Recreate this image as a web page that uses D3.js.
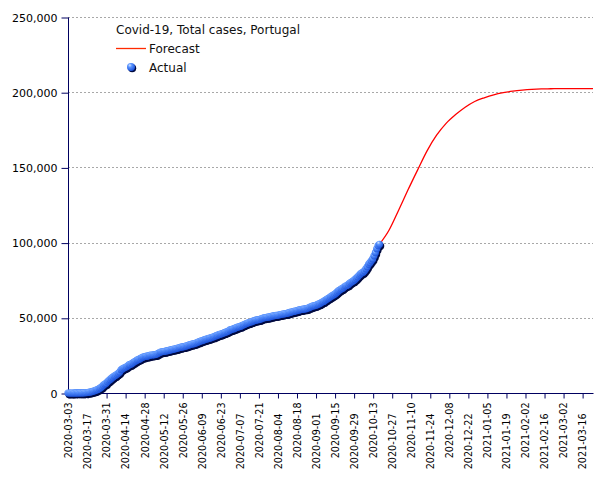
<!DOCTYPE html>
<html>
<head>
<meta charset="utf-8">
<script src="https://cdn.jsdelivr.net/npm/d3@7/dist/d3.min.js"></script>
<style>
  html, body { margin: 0; padding: 0; background: #ffffff; }
  svg { display: block; }
</style>
</head>
<body>
<script>
// ---------------- data ----------------
const chartTitle = "Covid-19, Total cases, Portugal";
const seriesNames = ["Forecast", "Actual"];

// Actual: daily totals starting 2020-03-03
const actualStart = "2020-03-03";
const actualValues = [
  2, 4, 6, 9, 13, 21, 30, 39, 41, 59, 78, 112, 169, 245, 331, 448, 642, 785, 1020, 1280,
  1600, 2060, 2362, 2995, 3544, 4268, 5170, 5962, 6408, 7443,
  8251, 9034, 9886, 10524, 11278, 11730, 12442, 13141, 13956, 15472, 15987, 16585, 16934, 17448, 18091,
  18841, 19022, 19685, 20206, 20863, 21379, 21982, 22353, 22797, 23392, 23864, 24027, 24322, 24505, 24692,
  25045, 25190, 25282, 25351, 25524, 25702, 26182, 26715, 27268, 27406, 27581, 27679, 27913, 28132, 28319,
  28583, 28810, 29036, 29209, 29432, 29660, 29912, 30200, 30471, 30623, 30788, 31007, 31292, 31596, 31946, 32203,
  32500, 32700, 32895, 33261, 33592, 33969, 34351, 34693, 34885, 35306, 35600, 35910, 36180, 36463, 36690,
  37036, 37336, 37672, 38089, 38464, 38841, 39133, 39392, 39737, 40104, 40415, 40866, 41189, 41912, 42141,
  42454, 42782, 43156, 43569, 43897, 44129, 44416, 44859, 45277, 45679, 46221, 46512, 46818, 47051, 47426,
  47765, 48077, 48390, 48636, 48771, 48898, 49379, 49692, 49955, 50164, 50299, 50410, 50613, 50868, 51072, 51310,
  51463, 51569, 51681, 51848, 52061, 52351, 52537, 52668, 52825, 52945, 53223, 53548, 53783, 53981, 54234,
  54448, 54701, 54890, 55211, 55452, 55597, 55720, 55912, 56007, 56274, 56673, 57074, 57448, 57883, 58012, 58243,
  58633, 59051, 59457, 59943, 60507, 60895, 61541, 62126, 62813, 63310, 63983, 64596, 65021, 65626, 66396,
  67176, 68025, 68577, 69200, 69663, 70465, 71156, 71475, 72055, 72939, 73604, 74106, 74717, 75542, 76396,
  77284, 78247, 79151, 79885, 80312, 81256, 82534, 83928, 85574, 86664, 87913, 89121, 91193, 93294, 95902,
  98055, 98900
];

// Forecast (weekly readings)
const forecastDates = [
  "2020-10-18", "2020-10-25", "2020-11-01", "2020-11-08", "2020-11-15", "2020-11-22", "2020-11-29",
  "2020-12-06", "2020-12-13", "2020-12-20", "2020-12-27", "2021-01-03", "2021-01-10", "2021-01-17",
  "2021-01-24", "2021-01-31", "2021-02-07", "2021-02-14", "2021-02-21", "2021-02-28", "2021-03-07",
  "2021-03-14", "2021-03-24"
];
const forecastValues = [
  98900, 108200, 121400, 135100, 148200, 161000, 171400,
  179300, 185100, 190000, 193800, 196300, 198300, 199700,
  200700, 201400, 201900, 202200, 202300, 202400, 202400,
  202400, 202400
];

const xDomain = ["2020-03-03", "2021-03-24"];
const xTickLabels = [
  "2020-03-03", "2020-03-17", "2020-03-31", "2020-04-14", "2020-04-28", "2020-05-12", "2020-05-26",
  "2020-06-09", "2020-06-23", "2020-07-07", "2020-07-21", "2020-08-04", "2020-08-18", "2020-09-01",
  "2020-09-15", "2020-09-29", "2020-10-13", "2020-10-27", "2020-11-10", "2020-11-24", "2020-12-08",
  "2020-12-22", "2021-01-05", "2021-01-19", "2021-02-02", "2021-02-16", "2021-03-02", "2021-03-16"
];
const yTicks = [0, 50000, 100000, 150000, 200000, 250000];

// ---------------- chart ----------------
(function () {
const W = 605, H = 480;
const pLeft = 68, pRight = 593, pTop = 17, pBottom = 393;
const parse = d3.utcParse("%Y-%m-%d");
const FONT = "'DejaVu Sans', Verdana, sans-serif";
const AXIS = "#000060";

const x = d3.scaleUtc().domain(xDomain.map(parse)).range([pLeft, pRight]);
const y = d3.scaleLinear().domain([0, 250000]).range([pBottom, pTop]);

const svg = d3.select("body").append("svg")
  .attr("width", W).attr("height", H)
  .attr("viewBox", `0 0 ${W} ${H}`);
svg.append("rect").attr("width", W).attr("height", H).attr("fill", "#ffffff");

const defs = svg.append("defs");
const grad = defs.append("radialGradient").attr("id", "sphere")
  .attr("cx", "38%").attr("cy", "32%").attr("r", "70%").attr("fx", "35%").attr("fy", "28%");
grad.append("stop").attr("offset", "0%").attr("stop-color", "#d4e6ff");
grad.append("stop").attr("offset", "35%").attr("stop-color", "#5a94ff");
grad.append("stop").attr("offset", "100%").attr("stop-color", "#1a50d8");

// grid lines
svg.append("g").selectAll("line")
  .data(yTicks.filter(v => v > 0))
  .join("line")
  .attr("x1", pLeft).attr("x2", pRight)
  .attr("y1", d => Math.round(y(d)) + 0.5).attr("y2", d => Math.round(y(d)) + 0.5)
  .attr("stroke", "#a8a8a8").attr("stroke-width", 1)
  .attr("stroke-dasharray", "2,2");

// y axis
const yAxis = d3.axisLeft(y).tickValues(yTicks).tickSize(7).tickPadding(4)
  .tickFormat(d3.format(",d"));
const gy = svg.append("g").attr("transform", `translate(${pLeft + 0.5},0.5)`).call(yAxis);
gy.select(".domain").attr("stroke", AXIS).attr("d", `M0,${pTop}V${pBottom}`);
gy.selectAll(".tick line").attr("stroke", AXIS);
gy.selectAll("text").attr("font-family", FONT).attr("font-size", 11).attr("fill", "#000");

// x axis
const xAxis = d3.axisBottom(x).tickValues(xTickLabels.map(parse)).tickSize(5)
  .tickFormat(d3.utcFormat("%Y-%m-%d"));
const gx = svg.append("g").attr("transform", `translate(0.5,${pBottom + 0.5})`).call(xAxis);
gx.select(".domain").attr("stroke", AXIS).attr("d", `M${pLeft},0H${pRight}`);
gx.selectAll(".tick line").attr("stroke", AXIS);
gx.selectAll(".tick text")
  .attr("font-family", FONT).attr("font-size", 9.6).attr("fill", "#000")
  .attr("text-anchor", "end")
  .attr("transform", (d, i) => `translate(0,${(i % 2 === 0 ? 9 : 20)}) rotate(-90)`)
  .attr("x", 0).attr("y", 0).attr("dy", "0.35em");

// forecast line
const fData = forecastDates.map((d, i) => ({ date: parse(d), value: forecastValues[i] }));
const line = d3.line().x(d => x(d.date)).y(d => y(d.value)).curve(d3.curveMonotoneX);
svg.append("path").datum(fData)
  .attr("d", line).attr("fill", "none").attr("stroke", "#ff0000").attr("stroke-width", 1.3);

// actual points
const start = parse(actualStart);
const aData = actualValues.map((v, i) => ({ date: d3.utcDay.offset(start, i), value: v }));
const gp = svg.append("g");
gp.selectAll("circle.sh").data(aData).join("circle").attr("class", "sh")
  .attr("cx", d => x(d.date) + 1.2).attr("cy", d => y(d.value) + 1.8)
  .attr("r", 3.6).attr("fill", "#000a40");
gp.selectAll("circle.pt").data(aData).join("circle").attr("class", "pt")
  .attr("cx", d => x(d.date)).attr("cy", d => y(d.value))
  .attr("r", 3.6).attr("fill", "url(#sphere)");

// legend
const lg = svg.append("g").attr("font-family", FONT).attr("font-size", 12).attr("fill", "#111");
lg.append("text").attr("x", 116).attr("y", 34).text(chartTitle);
lg.append("line").attr("x1", 116).attr("x2", 146).attr("y1", 48.5).attr("y2", 48.5)
  .attr("stroke", "#ff2a00").attr("stroke-width", 1.3);
lg.append("text").attr("x", 149).attr("y", 53).text(seriesNames[0]);
lg.append("circle").attr("cx", 132.2).attr("cy", 68.2).attr("r", 4).attr("fill", "#000a40");
lg.append("circle").attr("cx", 131).attr("cy", 67).attr("r", 4).attr("fill", "url(#sphere)");
lg.append("text").attr("x", 149).attr("y", 71.5).text(seriesNames[1]);
})();
</script>
</body>
</html>
